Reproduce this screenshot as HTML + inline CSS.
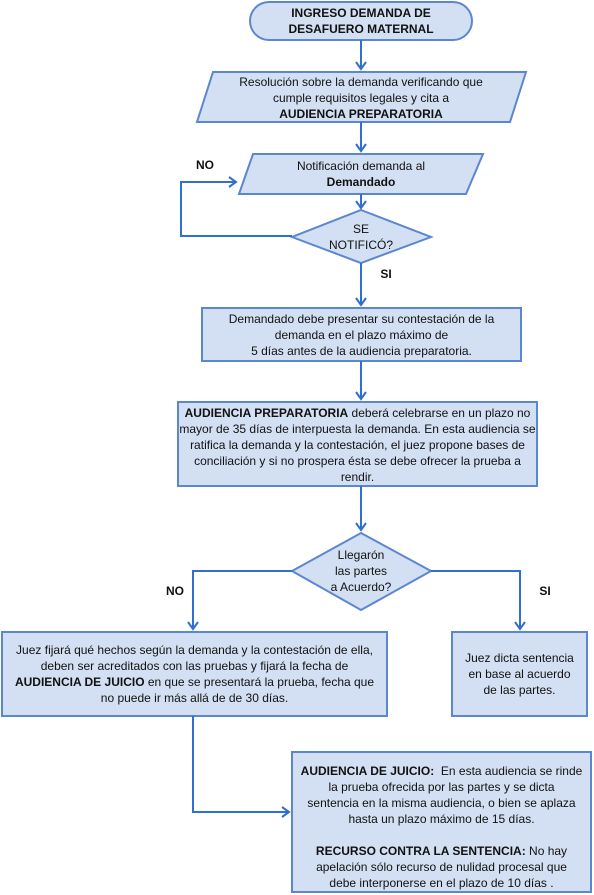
<!DOCTYPE html>
<html><head><meta charset="utf-8"><style>
html,body{margin:0;padding:0;background:#fff;}
#c{position:relative;width:594px;height:895px;overflow:hidden;font-family:"Liberation Sans",Arial,sans-serif;font-size:12px;color:#111;}
.t{position:absolute;text-align:center;line-height:16px;}
b{font-weight:bold;}
svg{position:absolute;left:0;top:0;}
</style></head><body><div id="c">
<svg width="594" height="895" viewBox="0 0 594 895">
<defs><marker id="a" markerWidth="12" markerHeight="12" refX="9" refY="6" orient="auto" markerUnits="userSpaceOnUse"><path d="M2,1 L9,6 L2,11" fill="none" stroke="#2f6fd1" stroke-width="2"/></marker></defs>
<g fill="#d3dff2" stroke="#5b86d0" stroke-width="2">
<rect x="250" y="2" width="222" height="38" rx="19"/>
<polygon points="213,72 526,72 510,122 197,122"/>
<polygon points="253,154 483,154 466,194 239,194"/>
<polygon points="361,210 431,237 361,263 292,237"/>
<rect x="202" y="308" width="319" height="53"/>
<rect x="178" y="402" width="359" height="84"/>
<polygon points="361,533 431,571 361,610 292,571"/>
<rect x="2" y="632" width="385" height="84"/>
<rect x="452" y="632" width="135" height="84"/>
<rect x="292" y="752" width="299" height="140"/>
</g>
<g fill="none" stroke="#2f6fd1" stroke-width="2" marker-end="url(#a)">
<line x1="361" y1="40" x2="361" y2="69"/>
<line x1="361" y1="122" x2="361" y2="151"/>
<line x1="361" y1="194" x2="361" y2="208"/>
<polyline points="292,236 181,236 181,182 236,182"/>
<line x1="361" y1="263" x2="361" y2="305"/>
<line x1="361" y1="361" x2="361" y2="399"/>
<line x1="361" y1="486" x2="361" y2="530"/>
<polyline points="292,571 193,571 193,629"/>
<polyline points="431,571 520,571 520,629"/>
<polyline points="193,716 193,812 289,812"/>
</g>
</svg>
<div class="t" style="left:250px;top:5px;width:222px;"><b>INGRESO DEMANDA DE<br>DESAFUERO MATERNAL</b></div>
<div class="t" style="left:200px;top:74px;width:322px;">Resolución sobre la demanda verificando que<br>cumple requisitos legales y cita a<br><b>AUDIENCIA PREPARATORIA</b></div>
<div class="t" style="left:245px;top:158px;width:232px;">Notificación demanda al<br><b>Demandado</b></div>
<div class="t" style="left:311px;top:221px;width:100px;">SE<br>NOTIFICÓ?</div>
<div class="t" style="left:190px;top:157px;width:30px;"><b>NO</b></div>
<div class="t" style="left:376px;top:266px;width:20px;"><b>SI</b></div>
<div class="t" style="left:202px;top:311px;width:319px;">Demandado debe presentar su contestación de la<br>demanda en el plazo máximo de<br>5 días antes de la audiencia preparatoria.</div>
<div class="t" style="left:178px;top:405px;width:359px;"><b>AUDIENCIA PREPARATORIA</b> deberá celebrarse en un plazo no<br>mayor de 35 días de interpuesta la demanda. En esta audiencia se<br>ratifica la demanda y la contestación, el juez propone bases de<br>conciliación y si no prospera ésta se debe ofrecer la prueba a<br>rendir.</div>
<div class="t" style="left:311px;top:547px;width:100px;">Llegarón<br>las partes<br>a Acuerdo?</div>
<div class="t" style="left:160px;top:583px;width:30px;"><b>NO</b></div>
<div class="t" style="left:535px;top:583px;width:20px;"><b>SI</b></div>
<div class="t" style="left:2px;top:642px;width:385px;">Juez fijará qué hechos según la demanda y la contestación de ella,<br>deben ser acreditados con las pruebas y fijará la fecha de<br><b>AUDIENCIA DE JUICIO</b> en que se presentará la prueba, fecha que<br>no puede ir más allá de de 30 días.</div>
<div class="t" style="left:452px;top:650px;width:135px;">Juez dicta sentencia<br>en base al acuerdo<br>de las partes.</div>
<div class="t" style="left:292px;top:763px;width:299px;"><b>AUDIENCIA DE JUICIO:</b>&nbsp; En esta audiencia se rinde<br>la prueba ofrecida por las partes y se dicta<br>sentencia en la misma audiencia, o bien se aplaza<br>hasta un plazo máximo de 15 días.<br><br><b>RECURSO CONTRA LA SENTENCIA:</b> No hay<br>apelación sólo recurso de nulidad procesal que<br>debe interponerse en el plazo de 10 días .</div>
</div></body></html>
